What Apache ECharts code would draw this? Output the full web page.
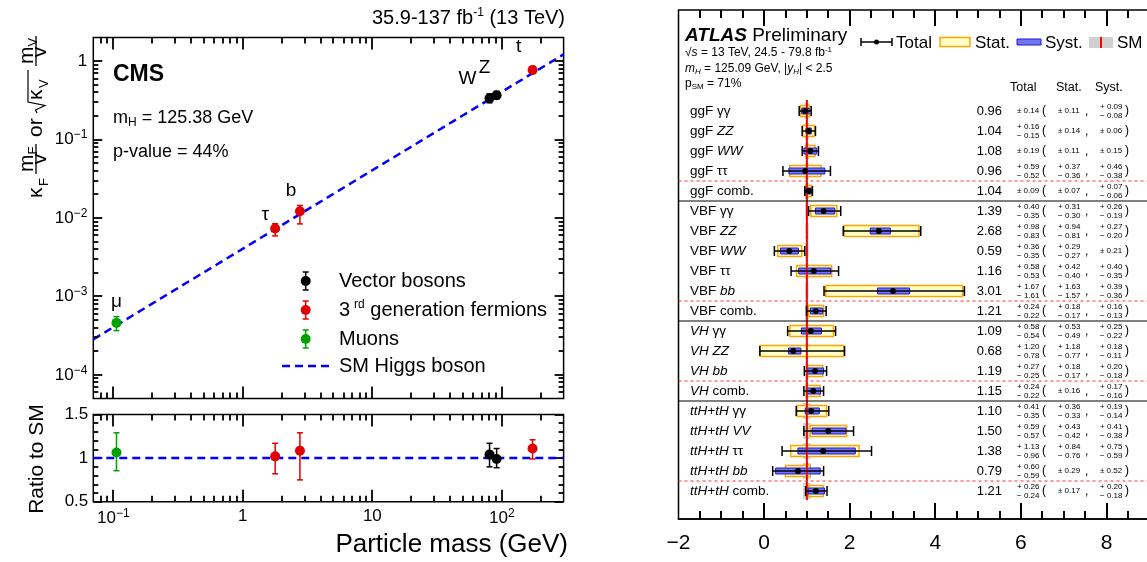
<!DOCTYPE html>
<html>
<head>
<meta charset="utf-8">
<script src="https://cdn.jsdelivr.net/npm/echarts@6/dist/echarts.min.js"></script>
<style>
  html, body { margin: 0; padding: 0; background: #fff; }
  #chart { width: 1147px; height: 562px; }
</style>
</head>
<body>
<div id="chart"></div>
<script>
// ---- left: CMS coupling vs particle mass ----
const particles = ['μ', 'τ', 'b', 'W', 'Z', 't']
const particleGroup = ['muon', 'fermion', 'fermion', 'boson', 'boson', 'fermion']
const particleMass = [0.1057, 1.777, 2.76, 80.38, 91.19, 172.76]
const coupling = [4.6e-4, 7.36e-3, 0.0122, 0.337, 0.367, 0.77]
const couplingLo = [3.67e-4, 5.92e-3, 8.41e-3, 0.294, 0.330, 0.695]
const couplingHi = [5.53e-4, 8.45e-3, 0.01446, 0.382, 0.411, 0.849]
const ratio = [1.065, 1.02, 1.085, 1.04, 0.99, 1.11]
const ratioLo = [0.855, 0.82, 0.75, 0.90, 0.89, 0.99]
const ratioHi = [1.29, 1.17, 1.29, 1.17, 1.11, 1.21]
const smLineMass = [0.07, 300]
const smLineCoupling = [2.84e-4, 1.218]
const smRatio = [1, 1]
const massLabelValues = [0.1, 1, 10, 100]
const couplingLabelValues = [1e-4, 1e-3, 1e-2, 1e-1, 1]
const ratioTicks = [0.5, 1, 1.5]
const ratioTickLabels = ['0.5', '1', '1.5']

// ---- right: ATLAS signal strengths ----
const rowProd = ['ggF', 'ggF', 'ggF', 'ggF', 'ggF',
  'VBF', 'VBF', 'VBF', 'VBF', 'VBF', 'VBF',
  'VH', 'VH', 'VH', 'VH',
  'ttH+tH', 'ttH+tH', 'ttH+tH', 'ttH+tH', 'ttH+tH']
const rowDecay = ['γγ', 'ZZ', 'WW', 'ττ', 'comb.',
  'γγ', 'ZZ', 'WW', 'ττ', 'bb', 'comb.',
  'γγ', 'ZZ', 'bb', 'comb.',
  'γγ', 'VV', 'ττ', 'bb', 'comb.']
const muVal = [0.96, 1.04, 1.08, 0.96, 1.04, 1.39, 2.68, 0.59, 1.16, 3.01, 1.21, 1.09, 0.68, 1.19, 1.15, 1.10, 1.50, 1.38, 0.79, 1.21]
const totUp = [0.14, 0.16, 0.19, 0.59, 0.09, 0.40, 0.98, 0.36, 0.58, 1.67, 0.24, 0.58, 1.20, 0.27, 0.24, 0.41, 0.59, 1.13, 0.60, 0.26]
const totDn = [0.14, 0.15, 0.19, 0.52, 0.09, 0.35, 0.83, 0.35, 0.53, 1.61, 0.22, 0.54, 0.78, 0.25, 0.22, 0.35, 0.57, 0.96, 0.59, 0.24]
const statUp = [0.11, 0.14, 0.11, 0.37, 0.07, 0.31, 0.94, 0.29, 0.42, 1.63, 0.18, 0.53, 1.18, 0.18, 0.16, 0.36, 0.43, 0.84, 0.29, 0.17]
const statDn = [0.11, 0.14, 0.11, 0.36, 0.07, 0.30, 0.81, 0.27, 0.40, 1.57, 0.17, 0.49, 0.77, 0.17, 0.16, 0.33, 0.42, 0.76, 0.29, 0.17]
const systUp = [0.09, 0.06, 0.15, 0.46, 0.07, 0.26, 0.27, 0.21, 0.40, 0.39, 0.16, 0.25, 0.18, 0.20, 0.17, 0.19, 0.41, 0.75, 0.52, 0.20]
const systDn = [0.08, 0.06, 0.15, 0.38, 0.06, 0.19, 0.20, 0.21, 0.35, 0.36, 0.13, 0.22, 0.11, 0.18, 0.16, 0.14, 0.38, 0.59, 0.52, 0.18]
const smUnc = [0.05, 0.05, 0.05, 0.05, 0.05, 0.04, 0.04, 0.04, 0.04, 0.04, 0.04, 0.04, 0.04, 0.04, 0.04, 0.09, 0.09, 0.09, 0.09, 0.09]
const smMu = 1
const muTicks = [-2, 0, 2, 4, 6, 8, 10]
const muTickLabels = ['−2', '0', '2', '4', '6', '8', '10']

const FONT = "'Liberation Sans', Arial, Helvetica, sans-serif"
const groupColor = { boson: '#000000', fermion: '#e00000', muon: '#00a000' }
const labelOffsets = [[0, -12], [-10, -4], [-9, -11], [-22, -10], [-12, -18], [-14, -14]]

function tickStyle(w) { return { stroke: '#000', lineWidth: w || 1.8 } }
function txt(x, y, text, o) {
  o = o || {}
  const align = o.align || 'left'
  const valign = o.valign || 'middle'
  return {
    type: 'text', x: x, y: y, rotation: o.rotation || 0, silent: true, z: o.z || 100,
    style: {
      text: text, fill: o.color || '#000', fontSize: o.size || 14, fontFamily: FONT,
      fontWeight: o.weight || 'normal', fontStyle: o.style || 'normal',
      align: align, verticalAlign: valign, textAlign: align, textVerticalAlign: valign,
      rich: o.rich
    }
  }
}
function seg(x1, y1, x2, y2, style) {
  return { type: 'line', silent: true, shape: { x1: x1, y1: y1, x2: x2, y2: y2 }, style: style }
}
function sup(size, raise) {
  return { fontSize: size, fontFamily: FONT, padding: [0, 0, raise, 0] }
}
function sub(size, drop, italic) {
  return { fontSize: size, fontFamily: FONT, fontStyle: italic ? 'italic' : 'normal', padding: [drop, 0, 0, 0] }
}
function powLabel(v) {
  const e = Math.round(Math.log10(v))
  if (e === 0) return '1'
  if (e === 1) return '10'
  return '10{sup|' + (e < 0 ? '−' + (-e) : e) + '}'
}
function onList(list, v) {
  return list.some(function (t) { return Math.abs(t - v) / t < 1e-6 })
}

// tick positions for the ROOT-style frames (decoration only)
function logTicks(lo, hi) {
  const out = []
  for (let e = -6; e <= 3; e++) {
    for (let k = 1; k <= 9; k++) {
      const v = k * Math.pow(10, e)
      if (v > lo * 1.0001 && v < hi * 0.9999) out.push([v, k === 1 ? 1 : 0])
    }
  }
  return out
}
const ticksTop = logTicks(0.07, 300).map(function (t) { return [t[0], 1, 0, t[1]] })
  .concat(logTicks(5e-5, 2).map(function (t) { return [1, t[0], 1, t[1]] }))
const ticksRatio = logTicks(0.07, 300).map(function (t) { return [t[0], 1, 0, t[1]] })
const ticksMu = []
for (let k = 1; k < 24; k++) ticksMu.push([-2 + k * 0.5, 0, k % 4 === 0 ? 1 : 0])

function renderTicks(xl, yl) {
  return function (params, api) {
    const cs = params.coordSys
    const p = api.coord([api.value(0), api.value(1)])
    const isY = api.value(2) === 1
    const L = isY ? yl[api.value(3) ? 0 : 1] : xl[api.value(3) ? 0 : 1]
    const b = cs.y + cs.height, r = cs.x + cs.width
    const px = Math.round(p[0]), py = Math.round(p[1])
    const s = isY
      ? [seg(cs.x, py, cs.x + L, py, tickStyle()), seg(r, py, r - L, py, tickStyle())]
      : [seg(px, b, px, b - L, tickStyle()), seg(px, cs.y, px, cs.y + L, tickStyle())]
    return { type: 'group', children: s }
  }
}
function renderMuTicks(params, api) {
  const cs = params.coordSys
  const p = api.coord([api.value(0), api.value(1)])
  const L = api.value(2) ? 16 : 8
  const b = cs.y + cs.height
  const px = Math.round(p[0])
  return { type: 'group', children: [seg(px, cs.y, px, cs.y + L, tickStyle(2)), seg(px, b, px, b - L, tickStyle(2))] }
}

function renderPoints(withLabels) {
  return function (params, api) {
    const i = params.dataIndex
    const m = api.value(0)
    const c = api.coord([m, api.value(1)])
    const lo = api.coord([m, api.value(2)])
    const hi = api.coord([m, api.value(3)])
    const color = groupColor[particleGroup[i]]
    const st = { stroke: color, lineWidth: 1.5 }
    const ch = [
      seg(c[0], lo[1], c[0], hi[1], st),
      seg(c[0] - 3, lo[1], c[0] + 3, lo[1], st),
      seg(c[0] - 3, hi[1], c[0] + 3, hi[1], st),
      { type: 'circle', shape: { cx: c[0], cy: c[1], r: 5 }, style: { fill: color } }
    ]
    if (withLabels) {
      ch.push(txt(c[0] + labelOffsets[i][0], c[1] + labelOffsets[i][1], particles[i],
        { size: 19, align: 'center', valign: 'bottom' }))
    }
    return { type: 'group', children: ch }
  }
}

const rowData = muVal.map(function (m, i) {
  return [m, i, totDn[i], totUp[i], statDn[i], statUp[i], systDn[i], systUp[i], smUnc[i]]
})

function renderBands(params, api) {
  const row = api.value(1), u = api.value(8)
  const a = api.coord([smMu - u, row]), b = api.coord([smMu + u, row])
  return { type: 'rect', shape: { x: a[0], y: a[1] - 8, width: b[0] - a[0], height: 16 }, style: { fill: '#d0d0d0' } }
}
function renderBoxes(params, api) {
  const mu = api.value(0), row = api.value(1)
  const s1 = api.coord([mu - api.value(4), row]), s2 = api.coord([mu + api.value(5), row])
  const y1 = api.coord([mu - api.value(6), row]), y2 = api.coord([mu + api.value(7), row])
  return {
    type: 'group', children: [
      { type: 'rect', shape: { x: s1[0], y: s1[1] - 5.5, width: s2[0] - s1[0], height: 11 },
        style: { fill: '#ffffc8', stroke: '#ffa500', lineWidth: 1.5 } },
      { type: 'rect', shape: { x: y1[0], y: y1[1] - 3, width: y2[0] - y1[0], height: 6 },
        style: { fill: '#7474f2', stroke: '#1c1ce0', lineWidth: 1 } }
    ]
  }
}
function uncText(x, y, up, dn) {
  if (up === dn) return [txt(x, y, '± ' + up.toFixed(2), { size: 8 })]
  return [txt(x, y - 4.5, '+ ' + up.toFixed(2), { size: 8 }), txt(x, y + 4.5, '− ' + dn.toFixed(2), { size: 8 })]
}
const rowRich = {
  n: { fontSize: 13.5, fontFamily: FONT },
  i: { fontSize: 13.5, fontFamily: FONT, fontStyle: 'italic' }
}
function renderRows(params, api) {
  const i = params.dataIndex
  const cs = params.coordSys
  const mu = api.value(0), row = api.value(1)
  const c = api.coord([mu, row])
  const lo = api.coord([mu - api.value(2), row])
  const hi = api.coord([mu + api.value(3), row])
  const y = c[1]
  const bar = { stroke: '#000', lineWidth: 1.5 }
  const ch = [
    seg(lo[0], y, hi[0], y, bar),
    seg(lo[0], y - 5, lo[0], y + 5, bar),
    seg(hi[0], y - 5, hi[0], y + 5, bar),
    { type: 'circle', shape: { cx: c[0], cy: y, r: 3 }, style: { fill: '#000' } }
  ]
  const prodIt = rowProd[i] !== 'ggF' && rowProd[i] !== 'VBF'
  const decIt = /^[A-Za-z]+$/.test(rowDecay[i])
  ch.push(txt(690, y, '{' + (prodIt ? 'i' : 'n') + '|' + rowProd[i] + '} {' + (decIt ? 'i' : 'n') + '|' + rowDecay[i] + '}',
    { size: 13.5, rich: rowRich }))
  ch.push(txt(1002, y, mu.toFixed(2), { size: 13, align: 'right' }))
  Array.prototype.push.apply(ch, uncText(1017, y, totUp[i], totDn[i]))
  ch.push(txt(1042, y, '(', { size: 12 }))
  Array.prototype.push.apply(ch, uncText(1058, y, statUp[i], statDn[i]))
  ch.push(txt(1085, y + 1, ',', { size: 12 }))
  Array.prototype.push.apply(ch, uncText(1100, y, systUp[i], systDn[i]))
  ch.push(txt(1125, y, ')', { size: 12 }))
  if (rowDecay[i] === 'comb.') {
    const yt = api.coord([0, row - 0.5])[1]
    ch.push(seg(cs.x, yt, cs.x + cs.width, yt, { stroke: '#ff3030', lineWidth: 1, lineDash: [3, 3] }))
    if (i < rowDecay.length - 1) {
      const yb = api.coord([0, row + 0.5])[1]
      ch.push(seg(cs.x, yb, cs.x + cs.width, yb, { stroke: '#000', lineWidth: 1 }))
    }
  }
  return { type: 'group', children: ch }
}

// ---- static annotations ----
const graphics = []
graphics.push(txt(565, 18, '35.9-137 fb{sup|-1} (13 TeV)', { size: 20, align: 'right', rich: { sup: sup(12, 10) } }))
graphics.push(txt(113, 75, 'CMS', { size: 23, weight: 'bold' }))
graphics.push(txt(113, 118, 'm{sub|H} = 125.38 GeV', { size: 18, rich: { sub: sub(12, 9) } }))
graphics.push(txt(113, 152, 'p-value = 44%', { size: 18 }))
const legendLeft = [
  { y: 281, color: groupColor.boson, text: 'Vector bosons' },
  { y: 310, color: groupColor.fermion, text: '3{sup|rd} generation fermions' },
  { y: 339, color: groupColor.muon, text: 'Muons' }
]
legendLeft.forEach(function (it) {
  const st = { stroke: it.color, lineWidth: 1.5 }
  graphics.push({ type: 'group', z: 100, children: [
    seg(305.7, it.y - 9, 305.7, it.y + 9, st),
    seg(302.7, it.y - 9, 308.7, it.y - 9, st),
    seg(302.7, it.y + 9, 308.7, it.y + 9, st),
    { type: 'circle', shape: { cx: 305.7, cy: it.y, r: 5 }, style: { fill: it.color } }
  ] })
  graphics.push(txt(339, it.y, it.text, { size: 20, rich: { sup: { fontSize: 12, fontFamily: FONT, padding: [0, 0, 10, 4] } } }))
})
graphics.push(seg(282, 366, 330, 366, { stroke: '#0000ff', lineWidth: 2.5, lineDash: [8, 5] }))
graphics.push(txt(339, 366, 'SM Higgs boson', { size: 20 }))
graphics.push(txt(568, 545, 'Particle mass (GeV)', { size: 26, align: 'right' }))
graphics.push(txt(37, 459, 'Ratio to SM', { size: 21, align: 'center', rotation: Math.PI / 2 }))
// y title: kappa_F m_F/v  or  sqrt(kappa_V) m_V/v  (rotated)
const T = 21, S = 13
const lw = { stroke: '#000', lineWidth: 1.3 }
graphics.push({ type: 'group', x: 23, y: 198, rotation: Math.PI / 2, z: 100, children: [
  txt(0, 13.4, 'κ', { size: T }), txt(12, 21, 'F', { size: S }),
  txt(26, 4.4, 'm', { size: T }), txt(43.5, 10, 'F', { size: S }),
  seg(24, 13, 54, 13, lw), txt(39, 17.5, 'v', { size: T, align: 'center' }),
  txt(61, 13.4, 'or', { size: T }),
  { type: 'polyline', shape: { points: [[85, 14], [88, 12.5], [92.5, 22], [96, 5], [128, 5]] }, style: { stroke: '#000', lineWidth: 1.2, fill: null } },
  txt(98, 13.4, 'κ', { size: T }), txt(110, 21, 'V', { size: S }),
  txt(134, 4.4, 'm', { size: T }), txt(151.5, 10, 'V', { size: S }),
  seg(132, 13, 162, 13, lw), txt(146, 17.5, 'v', { size: T, align: 'center' })
] })

// right header
graphics.push(txt(685, 36, '{b|ATLAS} Preliminary', { size: 19, rich: { b: { fontSize: 19, fontFamily: FONT, fontWeight: 'bold', fontStyle: 'italic' } } }))
graphics.push(txt(685, 53, '√{i|s} = 13 TeV, 24.5 - 79.8 fb{sup|-1}', { size: 12,
  rich: { i: { fontSize: 12, fontFamily: FONT, fontStyle: 'italic' }, sup: sup(8, 7) } }))
graphics.push(txt(685, 69, '{i|m}{sub|H} = 125.09 GeV, |{i|y}{sub|H}| < 2.5', { size: 12,
  rich: { i: { fontSize: 12, fontFamily: FONT, fontStyle: 'italic' }, sub: sub(8, 6, true) } }))
graphics.push(txt(685, 84, 'p{sub|SM} = 71%', { size: 12, rich: { sub: sub(8, 6) } }))
const lgBar = { stroke: '#000', lineWidth: 1.5 }
graphics.push({ type: 'group', z: 100, children: [
  seg(861, 42, 892, 42, lgBar), seg(861, 38, 861, 46, lgBar), seg(892, 38, 892, 46, lgBar),
  { type: 'circle', shape: { cx: 876.5, cy: 42, r: 2.5 }, style: { fill: '#000' } },
  { type: 'rect', shape: { x: 940, y: 37.5, width: 30, height: 9 }, style: { fill: '#ffffc8', stroke: '#ffa500', lineWidth: 1.5 } },
  { type: 'rect', shape: { x: 1017, y: 39, width: 24, height: 6 }, style: { fill: '#7474f2', stroke: '#1c1ce0', lineWidth: 1 } },
  { type: 'rect', shape: { x: 1089, y: 37, width: 24, height: 11 }, style: { fill: '#d0d0d0' } },
  seg(1101, 37, 1101, 48, { stroke: '#ff0000', lineWidth: 2 })
] })
graphics.push(txt(896, 43, 'Total', { size: 17 }))
graphics.push(txt(975, 43, 'Stat.', { size: 17 }))
graphics.push(txt(1045, 43, 'Syst.', { size: 17 }))
graphics.push(txt(1117, 43, 'SM', { size: 17 }))
graphics.push(txt(1010, 88, 'Total', { size: 12.5 }))
graphics.push(txt(1056, 88, 'Stat.', { size: 12.5 }))
graphics.push(txt(1095, 88, 'Syst.', { size: 12.5 }))

const axisText = { color: '#000', fontFamily: FONT }
const noLine = { show: false, onZero: false }
const frame = { show: true, borderColor: '#000', borderWidth: 1.5, backgroundColor: 'transparent', outerBoundsMode: 'none', containLabel: false }

const chart = echarts.init(document.getElementById('chart'))
chart.setOption({
  animation: false,
  backgroundColor: '#fff',
  grid: [
    Object.assign({ left: 93.3, top: 37.5, width: 470.3, height: 361 }, frame),
    Object.assign({ left: 93.3, top: 414.5, width: 470.3, height: 87.2 }, frame),
    Object.assign({ left: 678.5, top: 10, width: 513.6, height: 509 }, frame)
  ],
  xAxis: [
    { gridIndex: 0, type: 'log', logBase: 10, min: 0.07, max: 300, axisLine: noLine, axisTick: noLine,
      axisLabel: { show: false }, splitLine: noLine },
    { gridIndex: 1, type: 'log', logBase: 10, min: 0.07, max: 300, axisLine: noLine, axisTick: noLine,
      splitLine: noLine,
      axisLabel: Object.assign({ fontSize: 17, margin: 6,
        formatter: function (v) { return onList(massLabelValues, v) ? powLabel(v) : '' },
        rich: { sup: sup(12, 9) } }, axisText) },
    { gridIndex: 2, type: 'value', min: -2, max: 10, interval: 2, position: 'bottom',
      axisLine: { show: true, onZero: false, lineStyle: { color: '#000', width: 1.5 } },
      axisTick: noLine, minorTick: { show: false },
      splitLine: noLine, minorSplitLine: noLine,
      axisLabel: Object.assign({ fontSize: 21, margin: 14,
        formatter: function (v) { const k = muTicks.indexOf(v); return k < 0 ? '' : muTickLabels[k] } }, axisText) }
  ],
  yAxis: [
    { gridIndex: 0, type: 'log', logBase: 10, min: 5e-5, max: 2, axisLine: noLine, axisTick: noLine,
      splitLine: noLine,
      axisLabel: Object.assign({ fontSize: 17, margin: 6,
        formatter: function (v) { return onList(couplingLabelValues, v) ? powLabel(v) : '' },
        rich: { sup: sup(12, 9) } }, axisText) },
    { gridIndex: 1, type: 'value', min: 0.5, max: 1.5, interval: 0.5, position: 'left',
      axisLine: noLine,
      axisTick: { inside: true, length: 9, lineStyle: { color: '#000', width: 1.8 } },
      minorTick: { show: true, splitNumber: 5, length: 5, lineStyle: { color: '#000', width: 1.8 } },
      splitLine: noLine, minorSplitLine: noLine,
      axisLabel: Object.assign({ fontSize: 17, margin: 5,
        formatter: function (v) { const k = ratioTicks.indexOf(v); return k < 0 ? '' : ratioTickLabels[k] } }, axisText) },
    { gridIndex: 1, type: 'value', min: 0.5, max: 1.5, interval: 0.5, position: 'right',
      axisLine: noLine,
      axisTick: { inside: true, length: 9, lineStyle: { color: '#000', width: 1.8 } },
      minorTick: { show: true, splitNumber: 5, length: 5, lineStyle: { color: '#000', width: 1.8 } },
      splitLine: noLine, minorSplitLine: noLine, axisLabel: { show: false } },
    { gridIndex: 2, type: 'value', min: -5.05, max: 20.4, inverse: true, show: false, axisLine: noLine }
  ],
  series: [
    { type: 'custom', xAxisIndex: 0, yAxisIndex: 0, silent: true, z: 5,
      renderItem: renderTicks([12, 6], [9, 5]), data: ticksTop },
    { type: 'custom', xAxisIndex: 1, yAxisIndex: 1, silent: true, z: 5,
      renderItem: renderTicks([12, 6], [9, 5]), data: ticksRatio },
    { type: 'custom', xAxisIndex: 2, yAxisIndex: 3, silent: true, z: 5,
      renderItem: renderMuTicks, data: ticksMu },
    { type: 'line', xAxisIndex: 0, yAxisIndex: 0, symbol: 'none', silent: true, z: 3,
      lineStyle: { color: '#0000ff', width: 2.5, type: [8, 5] },
      data: smLineMass.map(function (m, i) { return [m, smLineCoupling[i]] }) },
    { type: 'line', xAxisIndex: 1, yAxisIndex: 1, symbol: 'none', silent: true, z: 3,
      lineStyle: { color: '#0000ff', width: 2.5, type: [8, 5] },
      data: smLineMass.map(function (m, i) { return [m, smRatio[i]] }) },
    { type: 'custom', xAxisIndex: 0, yAxisIndex: 0, silent: true, z: 6, renderItem: renderPoints(true),
      data: particles.map(function (p, i) { return [particleMass[i], coupling[i], couplingLo[i], couplingHi[i]] }) },
    { type: 'custom', xAxisIndex: 1, yAxisIndex: 1, silent: true, z: 6, renderItem: renderPoints(false),
      data: particles.map(function (p, i) { return [particleMass[i], ratio[i], ratioLo[i], ratioHi[i]] }) },
    { type: 'custom', xAxisIndex: 2, yAxisIndex: 3, silent: true, z: 2, renderItem: renderBands, data: rowData },
    { type: 'custom', xAxisIndex: 2, yAxisIndex: 3, silent: true, z: 3, renderItem: renderBoxes, data: rowData },
    { type: 'line', xAxisIndex: 2, yAxisIndex: 3, symbol: 'none', silent: true, z: 4,
      lineStyle: { color: '#ff0000', width: 2 },
      data: [[smMu, -0.55], [smMu, rowDecay.length - 0.55]] },
    { type: 'custom', xAxisIndex: 2, yAxisIndex: 3, silent: true, z: 5, renderItem: renderRows, data: rowData }
  ],
  graphic: graphics
})
</script>
</body>
</html>
